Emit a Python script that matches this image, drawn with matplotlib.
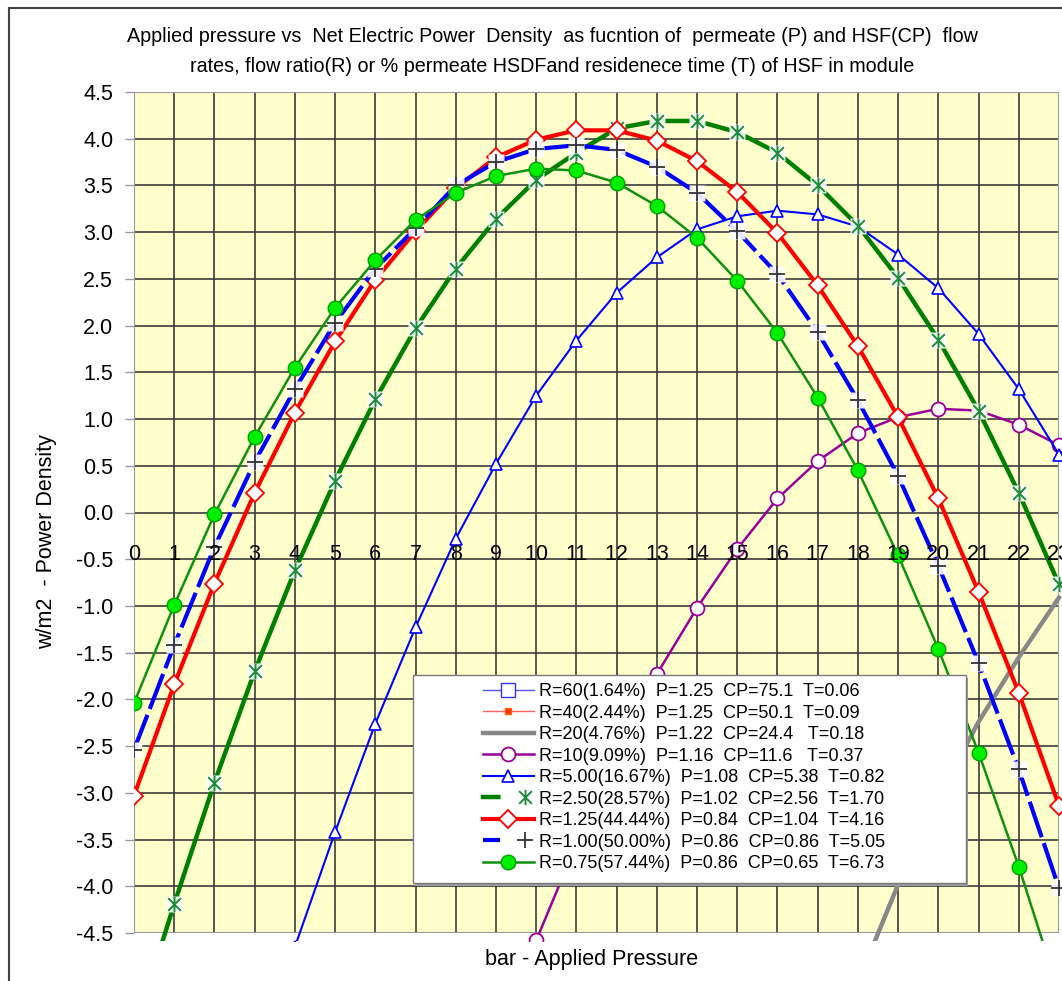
import numpy as np
import matplotlib
matplotlib.use("Agg")
import matplotlib.pyplot as plt
from matplotlib.lines import Line2D
from matplotlib.patches import Rectangle
from matplotlib.path import Path
from matplotlib.legend_handler import HandlerTuple

plt.rcParams['font.family'] = ['Liberation Sans', 'DejaVu Sans']
plt.rcParams['axes.unicode_minus'] = False

nan = np.nan
pressure = list(range(24))

# w/m2 values per flow ratio, read per bar step
r60 = []
r40 = []
r20 = [nan]*18 + [-5.03, -3.98, -3.05, -2.24, -1.55, -0.91]
r10 = [nan]*10 + [-4.58, -3.55, -2.60, -1.73, -1.02, -0.39, 0.15, 0.55, 0.85, 1.02, 1.11, 1.09, 0.94, 0.72]
r5_00 = [nan, nan, nan, nan, -4.65, -3.42, -2.26, -1.23, -0.28, 0.52, 1.25, 1.84, 2.35, 2.73,
         3.03, 3.17, 3.23, 3.19, 3.06, 2.76, 2.40, 1.91, 1.32, 0.62]
r2_50 = [-5.56, -4.19, -2.89, -1.70, -0.62, 0.34, 1.21, 1.97, 2.61, 3.14, 3.56, 3.85, 4.11, 4.19,
         4.19, 4.07, 3.85, 3.50, 3.07, 2.51, 1.85, 1.09, 0.21, -0.77]
r1_25 = [-3.03, -1.84, -0.76, 0.21, 1.07, 1.83, 2.49, 3.01, 3.47, 3.80, 3.99, 4.09, 4.09, 3.98,
         3.76, 3.43, 2.99, 2.43, 1.78, 1.02, 0.15, -0.85, -1.93, -3.14]
r1_00 = [-2.54, -1.42, -0.37, 0.54, 1.32, 2.03, 2.61, 3.04, 3.50, 3.75, 3.89, 3.93, 3.88, 3.70,
         3.42, 3.01, 2.55, 1.93, 1.20, 0.39, -0.57, -1.61, -2.75, -4.02]
r0_75 = [-2.04, -0.99, -0.02, 0.81, 1.55, 2.19, 2.70, 3.13, 3.42, 3.60, 3.68, 3.66, 3.53, 3.28,
         2.94, 2.48, 1.92, 1.23, 0.45, -0.46, -1.46, -2.57, -3.79, -5.14]

labels = [
    "R=60(1.64%)  P=1.25  CP=75.1  T=0.06",
    "R=40(2.44%)  P=1.25  CP=50.1  T=0.09",
    "R=20(4.76%)  P=1.22  CP=24.4   T=0.18",
    "R=10(9.09%)  P=1.16  CP=11.6   T=0.37",
    "R=5.00(16.67%)  P=1.08  CP=5.38  T=0.82",
    "R=2.50(28.57%)  P=1.02  CP=2.56  T=1.70",
    "R=1.25(44.44%)  P=0.84  CP=1.04  T=4.16",
    "R=1.00(50.00%)  P=0.86  CP=0.86  T=5.05",
    "R=0.75(57.44%)  P=0.86  CP=0.65  T=6.73",
]
x_ticks = list(range(24))
y_ticks = np.arange(-4.5, 4.51, 0.5)

# excel style star: an X with a vertical bar through it
star = Path([(-1, -1), (1, 1), (-1, 1), (1, -1), (0, -1.2), (0, 1.2)],
            [Path.MOVETO, Path.LINETO, Path.MOVETO, Path.LINETO, Path.MOVETO, Path.LINETO])

fig = plt.figure(figsize=(10.62, 9.81), dpi=100)
ax = fig.add_axes([134/1062, 48/981, 925/1062, 841/981])
ax.set_facecolor('#FFFFCC')
ax.set_xlim(0, 23)
ax.set_ylim(-4.5, 4.5)

for xv in x_ticks:
    ax.axvline(xv, color='#3c3c3c', lw=1.2, zorder=1)
for yv in y_ticks:
    ax.axhline(yv, color='#3c3c3c', lw=1.2, zorder=1)

clip = Rectangle((0, -0.009), 1.02, 1.009, transform=ax.transAxes, visible=False)
ax.add_patch(clip)

handles = []


def series(y, line_kw, back=None, top=None):
    xs = pressure[:len(y)]
    ln, = ax.plot(xs, y, **line_kw)
    ln.set_clip_path(clip)
    parts = [ln]
    for extra in (back, top):
        if extra is not None:
            m, = ax.plot(xs, y, ls='none', zorder=ln.get_zorder(), **extra)
            m.set_clip_path(clip)
            parts.append(m)
    handles.append(tuple(parts) if len(parts) > 1 else ln)


white_box = dict(marker='s', ms=11, mfc='white', mec='none', alpha=0.9)

series(r60, dict(color='#5555FF', lw=1.0, marker='s', ms=10, mfc='white', mec='#3333FF', zorder=3))
series(r40, dict(color='#FF6060', lw=1.0, marker='s', ms=5, mfc='#FF3300', mec='#FF6600', zorder=3))
series(r20, dict(color='#888888', lw=3.2, zorder=3))
series(r10, dict(color='#990099', lw=1.8, marker='o', ms=10, mfc='white', mec='#990099', mew=1.3, zorder=3))
series(r5_00, dict(color='#0000FF', lw=1.5, marker='^', ms=9, mfc='white', mec='#0000FF', mew=1.2, zorder=3))
series(r2_50, dict(color='#008000', lw=3.2, zorder=3), back=white_box,
       top=dict(marker=star, ms=11, mfc='none', mec='#1E8B3C', mew=1.4))
series(r1_25, dict(color='#FF0000', lw=3.0, marker='D', ms=9, mfc='white', mec='#FF0000', mew=1.3, zorder=3))
series(r1_00, dict(color='#0000FF', lw=3.0, dashes=(9, 1.5), zorder=3), back=white_box,
       top=dict(marker='+', ms=12, mec='#333333', mew=1.3))
series(r0_75, dict(color='#109010', lw=1.8, marker='o', ms=10.5, mfc='#00EE00', mec='#00A000', mew=1.0, zorder=3))

# axis cosmetics: x labels sit on the zero line
for s in ax.spines.values():
    s.set_visible(False)
ax.spines['bottom'].set_position(('data', 0))
ax.add_patch(Rectangle((0, 0), 1, 1, transform=ax.transAxes, fill=False, ec='#9a9a9a', lw=1.5, zorder=1.5))
ax.set_xticks(x_ticks)
ax.set_yticks(y_ticks)
ax.set_yticklabels([f"{v:.1f}" for v in y_ticks])
ax.tick_params(axis='x', length=0, pad=23, labelsize=15.5)
ax.tick_params(axis='y', length=6.5, width=1, color='#999999', pad=8.5, labelsize=15.5)
ax.xaxis.set_zorder(10)

# legend panel
ax.add_patch(Rectangle((415/1062, 1 - 886/981), 553/1062, 208/981, transform=fig.transFigure,
                       fc='#9a9a9a', ec='none', zorder=14, clip_on=False))
ax.add_patch(Rectangle((413/1062, 1 - 883/981), 553/1062, 208/981, transform=fig.transFigure,
                       fc='white', ec='#7a7a7a', lw=1.0, zorder=15, clip_on=False))
leg = ax.legend(handles, labels, loc='upper left', bbox_to_anchor=(483/1062, 1 - 683/981),
                bbox_transform=fig.transFigure, frameon=False, fontsize=13, handlelength=2.8,
                handletextpad=0.3, labelspacing=0.25, borderpad=0, borderaxespad=0, numpoints=1,
                handler_map={tuple: HandlerTuple(ndivide=None)})
leg.set_zorder(20)

fig.text(552/1062, 1 - 37/981,
         "Applied pressure vs  Net Electric Power  Density  as fucntion of  permeate (P) and HSF(CP)  flow",
         ha='center', va='center', fontsize=14.2)
fig.text(552/1062, 1 - 67/981,
         "rates, flow ratio(R) or % permeate HSDFand residenece time (T) of HSF in module",
         ha='center', va='center', fontsize=14.2)
fig.text(47/1062, 1 - 542/981, "w/m2  - Power Density", rotation=90, ha='center', va='center', fontsize=15.5)
fig.text(592/1062, 1 - 960/981, "bar - Applied Pressure", ha='center', va='center', fontsize=15.5)

# outer chart border (left and top)
fig.add_artist(Line2D([9/1062, 9/1062], [0, 1 - 8/981], color='#444444', lw=1.5))
fig.add_artist(Line2D([9/1062, 1], [1 - 8/981, 1 - 8/981], color='#444444', lw=1.5))

fig.savefig("out.png", dpi=100)
